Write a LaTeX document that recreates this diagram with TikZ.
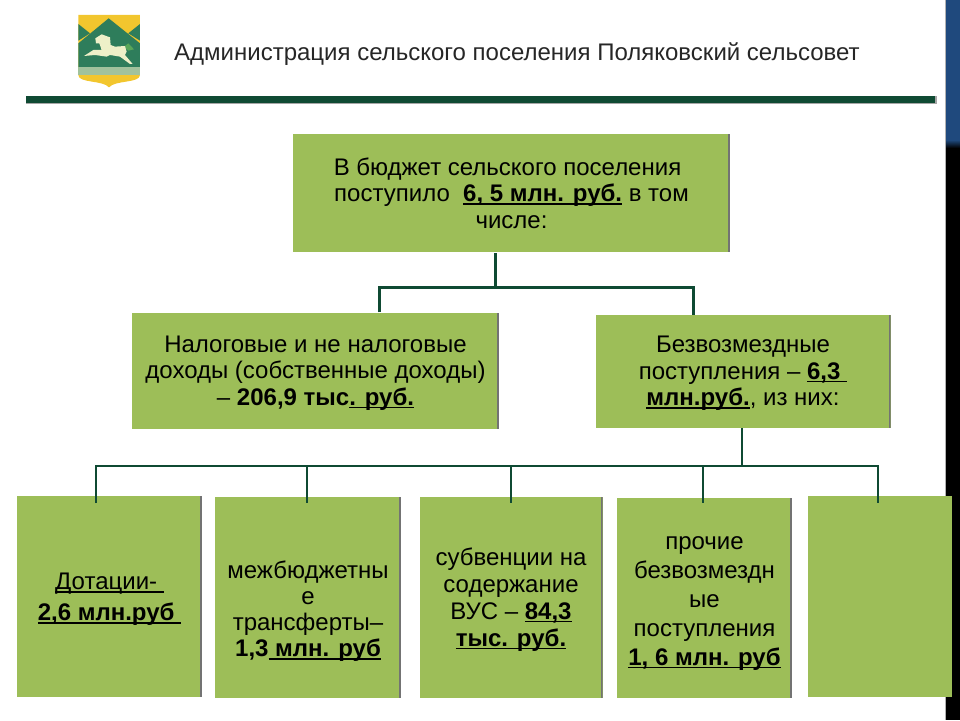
\documentclass[tikz,border=0pt]{standalone}
\usepackage{fontspec}
\setmainfont{Liberation Sans}
\definecolor{boxgreen}{HTML}{9DBE58}
\definecolor{lineg}{HTML}{0F4A33}
\definecolor{barblue}{HTML}{1F497D}
\definecolor{shieldy}{HTML}{F2C62E}
\definecolor{shieldg}{HTML}{2E7D5B}
\definecolor{horse}{HTML}{EEF0C8}
\newcommand{\fs}[1]{\fontsize{24}{#1}\selectfont}
\tikzset{
  plainbox/.style={fill=boxgreen,draw=none,inner sep=0pt,align=center,text=black,font=\fs{26.5}},
  box/.style={plainbox,
     path picture={\fill[black!55] ([xshift=-1.6pt]path picture bounding box.south east) rectangle (path picture bounding box.north east);}},
  conn/.style={draw=lineg,line width=3pt},
  thinconn/.style={draw=lineg,line width=2pt},
}
\newsavebox{\ulbox}
\newcommand{\ul}[1]{\sbox{\ulbox}{#1}\rlap{\rule[-3pt]{\wd\ulbox}{1.3pt}}\usebox{\ulbox}}
\newcommand{\bu}[1]{\ul{\textbf{#1}}}
\begin{document}
\begin{tikzpicture}[x=1pt,y=-1pt]
\useasboundingbox (0,0) rectangle (960,720);
% side bar
\fill[barblue] (945,0) rectangle (960,140);
\shade[top color=barblue,bottom color=black] (945,140) rectangle (960,148);
\fill[black] (945,148) rectangle (960,720);
\fill[black!30] (944.5,0) rectangle (945,720);
% crest
\begin{scope}[shift={(60,0)},x=0.3333pt,y=-0.3333pt]
\fill[shieldy] (55,45) -- (240,45) -- (240,225) .. controls (240,250) and (165,240) .. (147,262) .. controls (129,240) and (55,250) .. (55,225) -- cycle;
\fill[shieldg] (55,130) -- (146,55) -- (240,130) -- (240,205) -- (55,205) -- cycle;
\fill[shieldg] (55,72) -- (90,100) -- (55,122) -- cycle;
\fill[shieldg] (240,72) -- (205,100) -- (240,122) -- cycle;
\fill[horse!60!shieldg] (55,202) rectangle (240,225);
\fill[gray!70!green] (195,138) -- (205,130) -- (222,148) -- (205,152) -- (198,146) -- cycle;
\fill[horse] (125,103) -- (150,112) -- (152,135) -- (165,140) -- (195,138) -- (200,155) -- (195,165) -- (218,192) -- (210,192) -- (180,170) -- (150,165) -- (140,170) -- (105,165) -- (72,168) -- (100,150) -- (125,150) -- (118,130) -- (108,130) -- (106,115) -- cycle;
\end{scope}
% header
\node[anchor=west,inner sep=0pt,font=\fontsize{24}{26}\selectfont,text=black!85] (title) at (174,54) {Администрация сельского поселения Поляковский сельсовет};
\fill[black!35] (26,96) rectangle (937,104);
\fill[lineg] (26,96) rectangle (935,103);
% boxes
\node[box,minimum width=437pt,minimum height=118pt] (top) at (511.5,193) {В бюджет сельского поселения\hspace*{8pt}\\поступило \ \bu{6, 5 млн. руб.} в том\\числе:};
\node[box,minimum width=367pt,minimum height=116pt] (left) at (315.5,370.5) {\mbox{}\\[-5.5pt]Налоговые и не налоговые\\доходы (собственные доходы)\\– \textbf{206,9 тыс}\bu{. руб.}};
\node[box,minimum width=295pt,minimum height=113pt] (right) at (743,371.5) {\mbox{}\\[-6.5pt]Безвозмездные\\поступления – \bu{6,3\ }\\\bu{млн.руб.}, из них:};
\node[box,minimum width=185pt,minimum height=201pt,font=\fs{31}] (b1) at (109.5,596) {\mbox{}\\[-8pt]\ul{Дотации-\ }\\\bu{2,6 млн.руб\ }};
\node[box,minimum width=186pt,minimum height=201pt,font=\fs{26}] (b2) at (308,597) {\mbox{}\\[20pt]межбюджетны\\е\\трансферты–\\\textbf{1,3}\bu{ млн. руб}};
\node[box,minimum width=183pt,minimum height=201pt,font=\fs{27}] (b3) at (511,597) {\mbox{}\\[-5pt]субвенции на\\содержание\\ВУС – \bu{84,3}\\\bu{тыс. руб.}};
\node[box,minimum width=175pt,minimum height=200pt,font=\fs{29}] (b4) at (704.5,598) {\mbox{}\\[-6pt]прочие\\безвозмездн\\ые\\поступления\\\bu{1, 6 млн. руб}};
\node[plainbox,minimum width=144pt,minimum height=201pt] (b5) at (879.5,596) {};
% connectors
\coordinate (tj) at (495,287);
\coordinate (tl) at (379,287);
\coordinate (tr) at (693,287);
\draw[conn] (top.south -| tj) ++(0,1) -- (tj);
\draw[conn] (left.north -| tl) -- (tl) -- (tr) -- (right.north -| tr);
\coordinate (bj) at (742,466);
\coordinate (d1) at (96,503);
\coordinate (d2) at (307,503);
\coordinate (d3) at (511,503);
\coordinate (d4) at (703,503);
\coordinate (d5) at (878,503);
\draw[thinconn] (right.south -| bj) -- (bj);
\draw[thinconn] (d1) -- (d1 |- bj) -- (d5 |- bj) -- (d5);
\draw[thinconn] (d2 |- bj) -- (d2);
\draw[thinconn] (d3 |- bj) -- (d3);
\draw[thinconn] (d4 |- bj) -- (d4);
\end{tikzpicture}
\end{document}
